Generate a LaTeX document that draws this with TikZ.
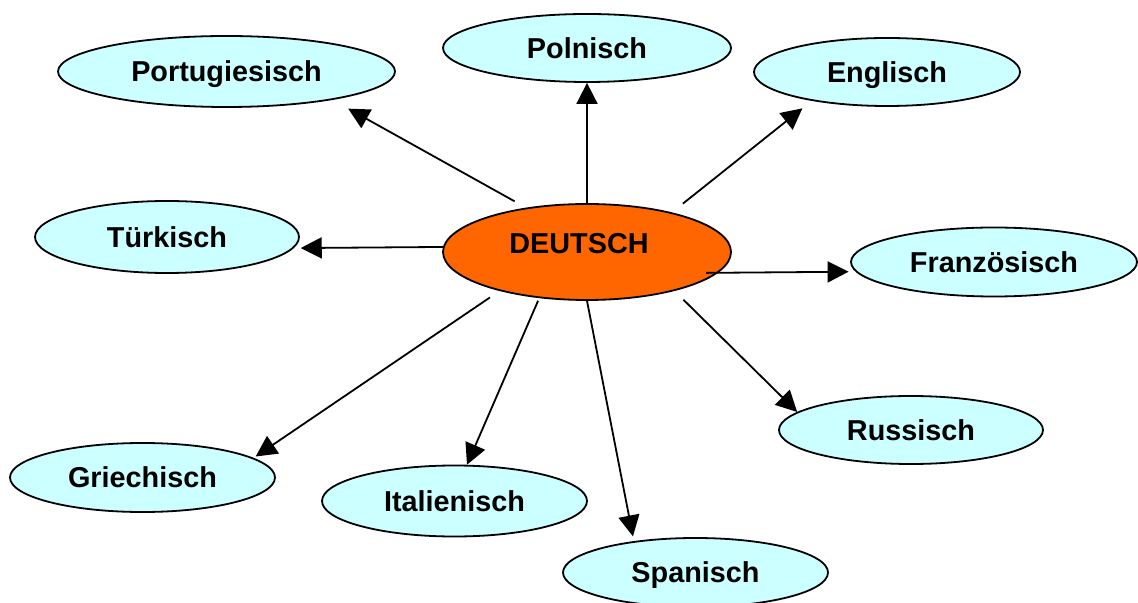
\documentclass[tikz,border=0pt]{standalone}
\usepackage{fontspec}
\setmainfont{Liberation Sans}
\usepackage{tikz}
\usetikzlibrary{arrows.meta, shapes}
\definecolor{LangBlue}{RGB}{204,255,255}
\definecolor{DeutschOrange}{RGB}{255,102,0}
\tikzstyle{word} = [font=\bfseries\fontsize{14.4}{17}\selectfont, text height=10.3pt, text depth=0pt]
\tikzstyle{language} = [word, ellipse, draw=black, fill=LangBlue, line width=0.9pt, inner sep=0pt,
                    minimum width=132.5pt, minimum height=34.5pt]
\tikzstyle{centre} = [language, fill=DeutschOrange]
\tikzstyle{link} = [-{Triangle[length=10.5pt, width=10.5pt]}, line width=0.9pt]

\begin{document}
\begin{tikzpicture}[x=0.5pt, y=-0.5pt]
	\useasboundingbox (0, 0) rectangle (1138, 603);

	\node (Deutsch) [centre, minimum width=144pt, minimum height=48pt] at (587, 252) {};
	\node (DeutschText) [word] at (579, 243.5) {DEUTSCH};

	% upper row
	\node (Portugiesisch) [language, minimum width=168.5pt, minimum height=35.5pt] at (226.5, 71.5) {Portugiesisch};
	\node (Polnisch) [language, minimum width=144pt, minimum height=34pt] at (587, 48) {Polnisch};
	\node (Englisch) [language, minimum width=133pt, minimum height=34pt] at (887, 72) {Englisch};

	% middle row
	\node (Tuerkisch) [language, minimum width=132pt, minimum height=36pt] at (167, 237) {Türkisch};
	\node (Franzoesisch) [language, minimum width=143pt] at (994, 262) {Französisch};

	% lower row
	\node (Russisch) [language, minimum width=132pt, minimum height=34pt] at (911, 430) {Russisch};
	\node (Griechisch) [language] at (142.5, 477.5) {Griechisch};
	\node (Italienisch) [language, minimum height=35.5pt] at (454.5, 501) {Italienisch};
	\node (Spanisch) [language] at (695.5, 572.5) {Spanisch};

	\draw [link, shorten <=6.5pt, shorten >=9pt] (Deutsch.144) -- (Portugiesisch.-15);
	\draw [link] (Deutsch.north) -- (Polnisch.south);
	\draw [link, shorten <=7pt, shorten >=6pt] (Deutsch.25) -- (Englisch.-159);
	\draw [link, shorten >=3.5pt] (Deutsch.178) -- (Tuerkisch.-5);
	\draw [link, shorten <=-6pt, shorten >=3.5pt] (Deutsch.-9) -- (Franzoesisch.-176);
	\draw [link, shorten <=6.25pt] (Deutsch.-24) -- (Russisch.171);
	\draw [link, shorten >=2.4pt] (Deutsch.south) -- (Spanisch.153);
	\draw [link, shorten <=1.4pt] (Deutsch.-136) -- (Italienisch.71);
	\draw [link, shorten <=5.75pt, shorten >=1.25pt] (Deutsch.-156) -- (Griechisch.10);
\end{tikzpicture}
\end{document}
